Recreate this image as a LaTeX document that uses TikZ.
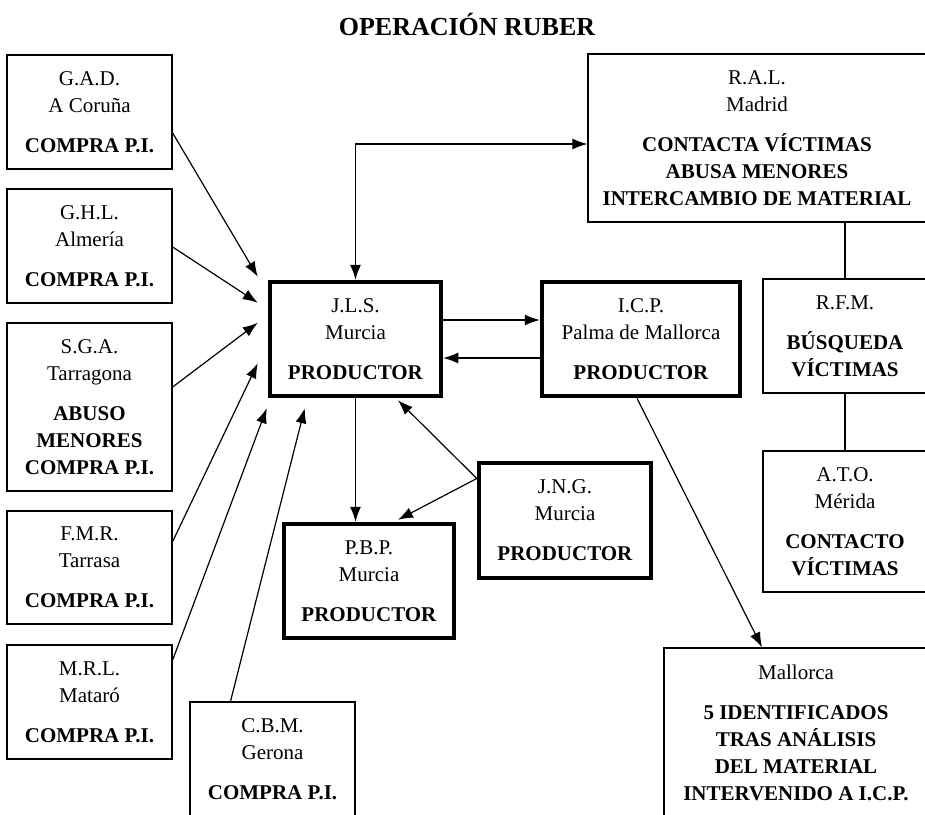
\documentclass[tikz,border=0pt]{standalone}
\usepackage{fontspec}
\setmainfont{Liberation Serif}
\usetikzlibrary{arrows.meta,calc}

\begin{document}
\begin{tikzpicture}[x=1pt,y=-1pt]
    \tikzstyle{suspect} = [rectangle, draw=black, line width=1.3pt, align=center, inner sep=0pt, font=\fontsize{21}{27}\selectfont]
    \tikzstyle{producer} = [suspect, line width=4.5pt]
    \tikzstyle{arrow} = [line width=1.2pt,-{Latex[length=15pt,width=11pt]}]
    \tikzstyle{twoway} = [line width=1.2pt,{Latex[length=15pt,width=11pt]}-{Latex[length=15pt,width=11pt]}]
    \tikzstyle{link} = [line width=1.2pt]
    \useasboundingbox (0,0) rectangle (925,814);
    \clip (0,0) rectangle (925,814);
    \node (title) at (467,24) {\fontsize{26}{30}\selectfont\bfseries OPERACIÓN RUBER};
    % buyers on the left
    \node (gad) [suspect, minimum width=165pt, minimum height=114pt] at (89.5,112) {G.A.D.\\A Coruña\\[13pt]\textbf{COMPRA P.I.}};
    \node (ghl) [suspect, minimum width=165pt, minimum height=114pt] at (89.5,246) {G.H.L.\\Almería\\[13pt]\textbf{COMPRA P.I.}};
    \node (sga) [suspect, minimum width=165pt, minimum height=168pt] at (89.5,407) {S.G.A.\\Tarragona\\[13pt]\textbf{ABUSO}\\\textbf{MENORES}\\\textbf{COMPRA P.I.}};
    \node (fmr) [suspect, minimum width=165pt, minimum height=113pt] at (89.5,567.5) {F.M.R.\\Tarrasa\\[13pt]\textbf{COMPRA P.I.}};
    \node (mrl) [suspect, minimum width=165pt, minimum height=114pt] at (89.5,702) {M.R.L.\\Mataró\\[13pt]\textbf{COMPRA P.I.}};
    \node (cbm) [suspect, minimum width=165pt, minimum height=114pt] at (272.5,759) {C.B.M.\\Gerona\\[13pt]\textbf{COMPRA P.I.}};
    % producers
    \node (jls) [producer, minimum width=171pt, minimum height=114pt] at (355.5,339) {J.L.S.\\Murcia\\[13pt]\textbf{PRODUCTOR}};
    \node (icp) [producer, minimum width=198pt, minimum height=114pt] at (641,339) {I.C.P.\\Palma de Mallorca\\[13pt]\textbf{PRODUCTOR}};
    \node (pbp) [producer, minimum width=170pt, minimum height=114pt] at (369,581) {P.B.P.\\Murcia\\[13pt]\textbf{PRODUCTOR}};
    \node (jng) [producer, minimum width=172pt, minimum height=115pt] at (565,520.5) {J.N.G.\\Murcia\\[13pt]\textbf{PRODUCTOR}};
    % right column
    \node (ral) [suspect, minimum width=338pt, minimum height=168pt] at (757,138) {R.A.L.\\Madrid\\[13pt]\textbf{CONTACTA VÍCTIMAS}\\\textbf{ABUSA MENORES}\\\textbf{INTERCAMBIO DE MATERIAL}};
    \node (rfm) [suspect, minimum width=164pt, minimum height=114pt] at (845,336) {R.F.M.\\[13pt]\textbf{BÚSQUEDA}\\\textbf{VÍCTIMAS}};
    \node (ato) [suspect, minimum width=164pt, minimum height=141pt] at (845,521.5) {A.T.O.\\Mérida\\[13pt]\textbf{CONTACTO}\\\textbf{VÍCTIMAS}};
    \node (mall) [suspect, minimum width=264pt, minimum height=169pt] at (796,732.5) {Mallorca\\[13pt]\textbf{5 IDENTIFICADOS}\\\textbf{TRAS ANÁLISIS}\\\textbf{DEL MATERIAL}\\\textbf{INTERVENIDO A I.C.P.}};
    % connectors
    \draw[arrow] ($(gad.east)+(0,21)$) -- ($(jls.north west)+(-10,-3)$);
    \draw[arrow] ($(ghl.east)+(0,1)$) -- ($(jls.north west)+(-10,23)$);
    \draw[arrow] ($(sga.east)+(0,-20)$) -- ($(jls.north west)+(-10,43)$);
    \draw[arrow] ($(fmr.east)+(0,-26)$) -- ($(jls.south west)+(-10,-35)$);
    \draw[arrow] ($(mrl.east)+(0,-42)$) -- ($(jls.south west)+(-1,10)$);
    \draw[arrow] ($(cbm.north)+(-42,0)$) -- ($(jls.south west)+(37,10)$);
    \draw[twoway] (jls.north) |- ($(ral.west)+(0,6)$);
    \draw[arrow] (jls.south) -- (jls.south |- pbp.north);
    \draw[arrow] ($(jls.east)+(0,-19)$) -- ($(icp.west)+(0,-19)$);
    \draw[arrow] ($(icp.west)+(0,19)$) -- ($(jls.east)+(0,19)$);
    \draw[arrow] ($(jng.west)+(0,-42)$) -- ($(pbp.north)+(29,-2)$);
    \draw[arrow] ($(jng.west)+(0,-42)$) -- ($(jls.south)+(42.5,2)$);
    \draw[arrow] ($(icp.south)+(-4,0)$) -- ($(mall.north)+(-34,0)$);
    \draw[link] (rfm.north) -- (rfm.north |- ral.south);
    \draw[link] (rfm.south) -- (ato.north);
\end{tikzpicture}
\end{document}
